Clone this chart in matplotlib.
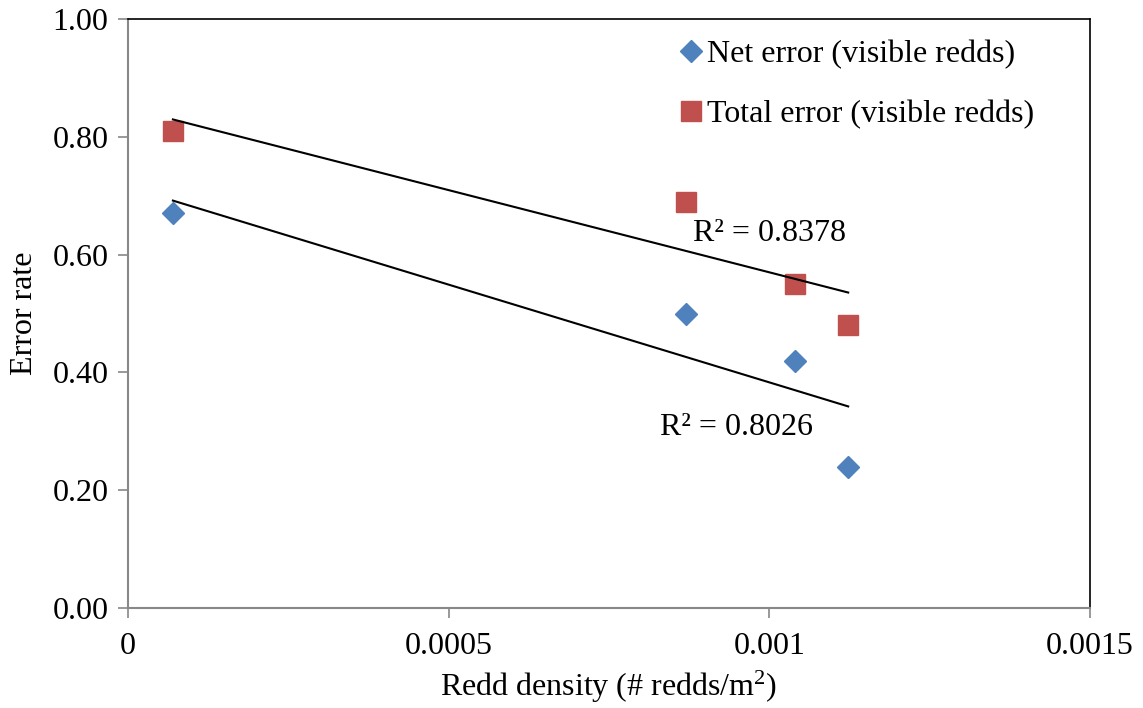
import matplotlib.pyplot as plt
import numpy as np

plt.rcParams['font.family'] = ['Liberation Serif', 'DejaVu Serif']
plt.rcParams['mathtext.fontset'] = 'custom'
plt.rcParams['mathtext.rm'] = 'Liberation Serif'
plt.rcParams['mathtext.it'] = 'Liberation Serif:italic'

# data
density = [0.00007, 0.00087, 0.00104, 0.001123]
net_error = [0.67, 0.50, 0.42, 0.24]
total_error = [0.81, 0.69, 0.55, 0.48]
r2_labels = ['R\u00b2 = 0.8026', 'R\u00b2 = 0.8378']
x_ticks = [0, 0.0005, 0.001, 0.0015]
x_tick_labels = ['0', '0.0005', '0.001', '0.0015']
y_ticks = [0, 0.2, 0.4, 0.6, 0.8, 1.0]

blue = '#4F81BD'
red = '#C0504D'
fs = 23

fig = plt.figure(figsize=(11.43, 7.08), dpi=100)
ax = fig.add_axes([0.112, 0.1412, 0.8416, 0.832])

ax.plot(density, net_error, 'D', color=blue, markersize=11, label='Net error (visible redds)')
ax.plot(density, total_error, 's', color=red, markersize=14, label='Total error (visible redds)')

#linear trendlines over the data range
xs = np.array([density[0], density[-1]])
for ys in (net_error, total_error):
    m, b = np.polyfit(density, ys, 1)
    ax.plot(xs, m*xs + b, color='black', linewidth=1.5)

ax.text(0.000830, 0.306, r2_labels[0], fontsize=fs, va='center')
ax.text(0.000881, 0.636, r2_labels[1], fontsize=fs, va='center')

ax.set_xlim(0, 0.0015)
ax.set_ylim(0, 1.0)
ax.set_xticks(x_ticks)
ax.set_xticklabels(x_tick_labels)
ax.set_yticks(y_ticks)
ax.set_yticklabels(['%.2f' % v for v in y_ticks])
ax.tick_params(labelsize=fs, color='#888888', length=7, width=1.2)
ax.tick_params(axis='x', pad=10)
ax.tick_params(axis='y', pad=7)

for s in ('left', 'bottom'):
    ax.spines[s].set_color('#888888')
    ax.spines[s].set_linewidth(1.5)
for s in ('top', 'right'):
    ax.spines[s].set_color('black')
    ax.spines[s].set_linewidth(1.2)

ax.set_xlabel('Redd density (# redds/m$^2$)', fontsize=fs, labelpad=6)
ax.set_ylabel('Error rate', fontsize=fs, labelpad=10)

ax.legend(loc='upper left', bbox_to_anchor=(0.55, 1.002), frameon=False, fontsize=fs,
          handlelength=0.7, handletextpad=0.15, labelspacing=0.95, borderpad=0.2)

fig.savefig('out.png', dpi=100)
